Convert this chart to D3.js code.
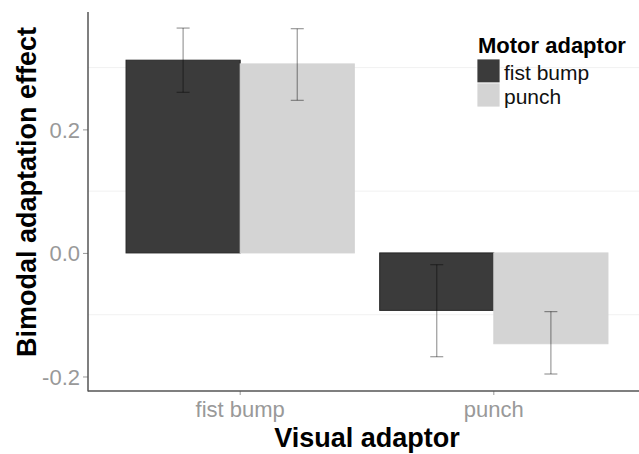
<!DOCTYPE html>
<html>
<head>
<meta charset="utf-8">
<script src="https://cdn.jsdelivr.net/npm/d3@7"></script>
<style>
  body { margin: 0; background: #fff; }
  svg { display: block; font-family: "Liberation Sans", Arial, sans-serif; }
</style>
</head>
<body>
<svg id="chart" width="639" height="454"></svg>
<script>
const categories = ["fist bump", "punch"];
const series = ["fist bump", "punch"];
const means = [[0.312, 0.306], [-0.093, -0.147]];
const lower = [[0.260, 0.247], [-0.168, -0.196]];
const upper = [[0.364, 0.363], [-0.019, -0.095]];
const yTicks = [-0.2, 0.0, 0.2];
const yMinor = [-0.1, 0.1, 0.3];
const colors = ["#3b3b3b", "#d4d4d4"];
const strokes = ["#262626", "#d4d4d4"];

const svg = d3.select("#chart");
const pLeft = 88, pRight = 646, pTop = 12, pBottom = 391;

const y = d3.scaleLinear().domain([-0.2235, 0.39]).range([pBottom, pTop]);
const x = d3.scaleBand().domain(categories).range([pLeft, pRight]).paddingInner(0.1).paddingOuter(0.15);
const xs = d3.scaleBand().domain(series).range([0, x.bandwidth()]);

// minor grid
svg.append("g").selectAll("line").data(yMinor).join("line")
  .attr("x1", pLeft).attr("x2", 639)
  .attr("y1", d => y(d)).attr("y2", d => y(d))
  .attr("stroke", "#f1f1f1").attr("stroke-width", 1);

// bars
const rows = [];
categories.forEach((c, i) => series.forEach((s, j) => rows.push({c, s, j, v: means[i][j], lo: lower[i][j], hi: upper[i][j]})));

svg.append("g").selectAll("rect").data(rows).join("rect")
  .attr("x", d => x(d.c) + xs(d.s))
  .attr("width", xs.bandwidth())
  .attr("y", d => y(Math.max(0, d.v)))
  .attr("height", d => Math.abs(y(d.v) - y(0)))
  .attr("fill", d => colors[d.j])
  .attr("stroke", d => strokes[d.j])
  .attr("stroke-width", 1);

// error bars
const eb = svg.append("g").attr("stroke", "#000").attr("stroke-opacity", 0.4).attr("stroke-width", 1.2);
rows.forEach(d => {
  const cx = x(d.c) + xs(d.s) + xs.bandwidth() / 2;
  eb.append("line").attr("x1", cx).attr("x2", cx).attr("y1", y(d.hi)).attr("y2", y(d.lo));
  eb.append("line").attr("x1", cx - 6.5).attr("x2", cx + 6.5).attr("y1", y(d.hi)).attr("y2", y(d.hi));
  eb.append("line").attr("x1", cx - 6.5).attr("x2", cx + 6.5).attr("y1", y(d.lo)).attr("y2", y(d.lo));
});

// axes
const yAxis = svg.append("g").attr("transform", `translate(${pLeft},0)`)
  .call(d3.axisLeft(y).tickValues(yTicks).tickFormat(d3.format(".1f")).tickSize(5).tickPadding(3));
yAxis.select(".domain").remove();
yAxis.selectAll(".tick line").attr("stroke", "#999");
yAxis.selectAll("text").attr("fill", "#999").style("font-size", "22px").attr("dy", "0.36em")
  .text(d => d3.format(".1f")(d).replace("−", "-"));

const xAxis = svg.append("g").attr("transform", `translate(0,${pBottom})`)
  .call(d3.axisBottom(x).tickSize(4).tickPadding(6));
xAxis.select(".domain").remove();
xAxis.selectAll(".tick line").attr("stroke", "#999");
xAxis.selectAll("text").attr("fill", "#999").style("font-size", "22px").attr("dy", "0.71em");

svg.append("line").attr("x1", pLeft).attr("x2", pLeft).attr("y1", pTop).attr("y2", pBottom + 0.5)
  .attr("stroke", "#555").attr("stroke-width", 1.5);
svg.append("line").attr("x1", pLeft).attr("x2", 639).attr("y1", pBottom).attr("y2", pBottom)
  .attr("stroke", "#555").attr("stroke-width", 1.5);

// titles
svg.append("text").attr("x", (pLeft + pRight) / 2).attr("y", 447).attr("text-anchor", "middle")
  .style("font-size", "27px").style("font-weight", "bold").attr("fill", "#000").text("Visual adaptor");
svg.append("text").attr("transform", `translate(36,192) rotate(-90)`).attr("text-anchor", "middle")
  .style("font-size", "27px").style("font-weight", "bold").attr("fill", "#000").text("Bimodal adaptation effect");

// legend
const lg = svg.append("g").attr("transform", "translate(477,53)");
lg.append("text").attr("x", 1).attr("y", 0).style("font-size", "22px").style("font-weight", "bold").attr("fill", "#000").text("Motor adaptor");
series.forEach((s, j) => {
  lg.append("rect").attr("x", 0).attr("y", 6 + j * 24).attr("width", 23).attr("height", 24)
    .attr("fill", colors[j]).attr("stroke", "#fff").attr("stroke-width", 0.8);
  lg.append("text").attr("x", 27).attr("y", 27 + j * 24).style("font-size", "21px").attr("fill", "#111").text(s);
});
</script>
</body>
</html>
